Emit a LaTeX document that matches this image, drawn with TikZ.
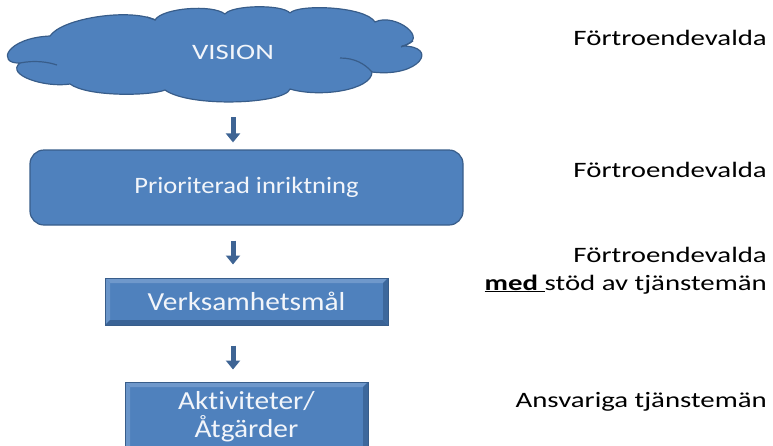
\documentclass[tikz,border=0pt]{standalone}
\usepackage{fontspec}
\setmainfont{Carlito}
\newfontfamily\rolefont[FakeStretch=1.31, Ligatures=NoCommon]{Carlito}
\newfontfamily\boxfont[FakeStretch=1.13, Ligatures=NoCommon]{Carlito}
\usepackage{tikz}
\usetikzlibrary{arrows.meta, calc, positioning}

\definecolor{boxblue}{HTML}{4F81BD}
\definecolor{edgeblue}{HTML}{385D8A}
\definecolor{arrowblue}{HTML}{3E6494}
\definecolor{bevellight}{HTML}{6F98CB}
\definecolor{beveldark}{HTML}{3A6396}
\definecolor{boxtext}{HTML}{F2F5FA}

\tikzset{
  roletext/.style={font=\rolefont\fontsize{22}{28}\selectfont},
  boxtextstyle/.style={font=\boxfont\fontsize{26}{28}\selectfont},
  cloudshape/.style={fill=boxblue, draw=edgeblue, line width=1.2pt, line join=round},
  cloudfold/.style={draw=edgeblue, line width=1.2pt},
  flowarrow/.style={arrowblue, line width=5pt, -{Triangle[width=14pt, length=9pt]}},
  roundbox/.style={rectangle, rounded corners=14pt, fill=boxblue, draw=edgeblue, line width=1.2pt, text=boxtext, boxtextstyle},
  bevelbox/.style={rectangle, fill=boxblue, draw=edgeblue, line width=1pt, text=boxtext, boxtextstyle, align=center,
    path picture={
      \fill[bevellight] (path picture bounding box.north west) -- (path picture bounding box.north east)
        -- ([xshift=-5pt, yshift=-5pt]path picture bounding box.north east) -- ([xshift=5pt, yshift=-5pt]path picture bounding box.north west) -- cycle;
      \fill[bevellight!85!boxblue] (path picture bounding box.north west) -- (path picture bounding box.south west)
        -- ([xshift=5pt, yshift=5pt]path picture bounding box.south west) -- ([xshift=5pt, yshift=-5pt]path picture bounding box.north west) -- cycle;
      \fill[beveldark] (path picture bounding box.south west) -- (path picture bounding box.south east)
        -- ([xshift=-5pt, yshift=5pt]path picture bounding box.south east) -- ([xshift=5pt, yshift=5pt]path picture bounding box.south west) -- cycle;
      \fill[beveldark!85!boxblue] (path picture bounding box.north east) -- (path picture bounding box.south east)
        -- ([xshift=-5pt, yshift=5pt]path picture bounding box.south east) -- ([xshift=-5pt, yshift=-5pt]path picture bounding box.north east) -- cycle;
    }},
  rolelabel/.style={anchor=base east, align=right, inner sep=0pt, roletext}
}

\begin{document}
\begin{tikzpicture}[x=1pt, y=-1pt]
        \useasboundingbox (0,0) rectangle (773,445);
        \clip (0,0) rectangle (773,445);

        % Cloud
        \draw[cloudshape] (20,63) .. controls (-4,64) and (6,38) .. (50,36)
          .. controls (62,18) and (130,8) .. (155,20)
          .. controls (162,8) and (212,4) .. (225,14)
          .. controls (232,5) and (282,4) .. (290,13)
          .. controls (298,4) and (365,6) .. (375,22)
          .. controls (395,12) and (432,40) .. (402,46)
          .. controls (440,46) and (420,78) .. (372,72)
          .. controls (372,90) and (320,98) .. (290,89)
          .. controls (285,104) and (190,108) .. (165,90)
          .. controls (150,96) and (88,97) .. (70,84)
          .. controls (45,88) and (5,75) .. (20,63) -- cycle;
        \draw[cloudfold] (20,63) .. controls (35,60) and (48,62) .. (57,65);
        \draw[cloudfold] (147,17) .. controls (151,18) .. (156,20);
        \draw[cloudfold] (401,47) .. controls (406,45) .. (413,41);
        \draw[cloudfold] (340,58) .. controls (355,58) and (365,64) .. (372,72);

        % Boxes
        \node[text=boxtext, roletext, anchor=base, minimum height=96pt] (vision) at (233,59) {VISION};
        \node[roundbox, font=\boxfont\fontsize{23.5}{28}\selectfont, minimum width=433pt, minimum height=75pt] (prio) at (246.5,187.5) {Prioriterad inriktning};
        \node[bevelbox, minimum width=283pt, minimum height=47pt] (goal) at (246.5,301.5) {Verksamhetsmål};
        \node[bevelbox, minimum width=243pt, minimum height=70pt] (act) at (246.5,417) {Aktiviteter/\\Åtgärder};

        % Arrows
        \coordinate (axis) at (233,0);
        \draw[flowarrow, shorten <=17pt, shorten >=7pt] (vision.south -| axis) -- (prio.north -| axis);
        \draw[flowarrow, shorten <=15pt, shorten >=13pt] (prio.south -| axis) -- (goal.north -| axis);
        \draw[flowarrow, shorten <=20pt, shorten >=12pt] (goal.south -| axis) -- (act.north -| axis);

        % Roles
        \node[rolelabel] (role1) at (767,45) {Förtroendevalda};
        \node[rolelabel] (role2) at (767,177) {Förtroendevalda};
        \node[rolelabel] (role3) at (767,290) {Förtroendevalda\\\underline{\textbf{med}\ }stöd av tjänstemän};
        \node[rolelabel] (role4) at (767,407) {Ansvariga tjänstemän};
    \end{tikzpicture}
\end{document}
